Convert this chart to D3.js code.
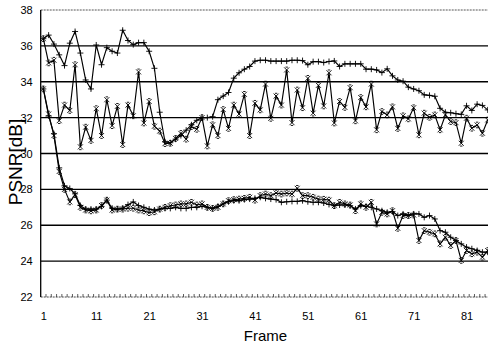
<!DOCTYPE html>
<html>
<head>
<meta charset="utf-8">
<script src="https://cdn.jsdelivr.net/npm/d3@7"></script>
<style>
  body { margin: 0; background: #fff; }
  text { font-family: "Liberation Sans Narrow", "Liberation Sans", Arial, sans-serif; }
</style>
</head>
<body>
<svg id="chart" width="488" height="347"></svg>
<script>
var frames = d3.range(1, 86);
var xTicks = [1, 11, 21, 31, 41, 51, 61, 71, 81];
var yTicks = [22, 24, 26, 28, 30, 32, 34, 36, 38];

// upper pair
var seriesA = [36.4, 36.6, 36.1, 35.5, 34.9, 36.15, 36.8, 35.6, 34.1, 33.6,
  36.05, 34.95, 35.9, 35.7, 35.6, 36.87, 36.3, 36.07, 36.18, 36.18,
  35.7, 34.75, 32.3, 30.65, 30.6, 30.8, 31.0, 31.3, 31.6, 31.85,
  32.0, 32.0, 32.05, 33.0, 33.2, 33.4, 34.2, 34.5, 34.7, 34.85,
  35.15, 35.2, 35.2, 35.15, 35.15, 35.15, 35.15, 35.2, 35.2, 35.18,
  34.95, 35.12, 35.12, 35.07, 35.13, 35.16, 34.85, 35.0, 35.0, 35.0,
  35.0, 34.7, 34.7, 34.66, 34.51, 34.72, 34.33, 34.1, 34.03, 33.7,
  33.6, 33.5, 33.27, 33.24, 33.19, 32.52, 32.3, 32.27, 32.22, 32.18,
  32.66, 32.4, 32.75, 32.68, 32.43];
var seriesB = [36.4, 35.05, 35.2, 31.83, 32.7, 32.4, 34.95, 30.37, 31.47, 30.73,
  32.5, 31.0, 33.0, 31.55, 32.63, 30.5, 32.7, 32.1, 34.55, 31.7,
  32.9, 31.52, 31.25, 30.55, 30.57, 30.84, 31.12, 30.8, 31.5, 31.35,
  32.0, 30.42, 31.6, 31.0, 32.45, 31.4, 32.7, 32.2, 33.3, 31.0,
  32.8, 32.43, 33.87, 31.96, 33.2, 32.7, 34.66, 31.72, 33.54, 32.55,
  34.19, 32.25, 33.8, 32.65, 34.5, 31.7, 32.9, 32.57, 33.67, 31.82,
  33.12, 32.6, 33.87, 31.32, 32.34, 32.15, 32.6, 31.4, 32.1, 31.93,
  32.55, 31.04, 32.25, 32.02, 32.15, 31.32, 32.15, 31.78, 31.72, 30.57,
  31.97, 31.41, 31.59, 31.13, 31.87];
// lower pair
var seriesC = [33.6, 32.1, 31.1, 29.2, 28.2, 28.05, 27.75, 27.1, 26.9, 26.9,
  26.9, 27.05, 27.4, 26.95, 26.9, 26.95, 27.15, 27.3, 27.1, 27.0,
  26.9, 26.85, 26.9, 26.94, 26.94, 27.0, 26.94, 26.94, 27.0, 27.0,
  27.06, 27.0, 26.94, 27.06, 27.19, 27.31, 27.37, 27.37, 27.43, 27.46,
  27.5, 27.56, 27.5, 27.46, 27.43, 27.28, 27.31, 27.33, 27.33, 27.37,
  27.31, 27.28, 27.28, 27.24, 27.16, 27.09, 27.13, 27.13, 27.09, 26.91,
  27.09, 27.06, 27.0, 26.91, 26.81, 26.72, 26.76, 26.54, 26.63, 26.57,
  26.63, 26.63, 26.44, 26.54, 26.35, 25.7, 25.61, 25.33, 25.15, 24.96,
  24.78, 24.69, 24.59, 24.5, 24.5];
var seriesD = [33.6, 32.2, 31.0, 29.0, 28.0, 27.3, 27.7, 27.0, 26.85, 26.8,
  26.85, 27.1, 27.4, 26.85, 26.9, 26.9, 26.95, 26.95, 26.85, 26.8,
  26.7, 26.75, 26.9, 27.0, 27.09, 27.13, 27.19, 27.19, 27.28, 27.13,
  27.19, 27.0, 26.94, 27.0, 27.19, 27.37, 27.43, 27.46, 27.5, 27.56,
  27.4, 27.65, 27.74, 27.65, 27.8, 27.74, 27.8, 27.74, 28.06, 27.65,
  27.65, 27.56, 27.46, 27.45, 27.4, 27.09, 27.28, 27.19, 27.13, 26.81,
  27.19, 27.0, 27.28, 26.07, 26.72, 26.63, 26.81, 25.83, 26.54, 26.54,
  26.57, 25.15, 25.7, 25.61, 25.52, 24.96, 25.33, 24.87, 25.15, 24.04,
  24.59, 24.41, 24.5, 24.22, 24.59];

var svg = d3.select("#chart"),
  margin = { top: 10, left: 40.7, bottom: 50 },
  step = 5.29,
  height = +svg.attr("height") - margin.top - margin.bottom;

var x = d3.scaleLinear().domain([0.5, frames.length + 0.5]).range([0, frames.length * step]),
  y = d3.scaleLinear().domain([22, 38]).range([height, 0]);
var width = x.range()[1];

var g = svg.append("g")
  .attr("transform", "translate(" + margin.left + "," + margin.top + ")");

// grid
g.selectAll(".grid")
  .data(yTicks.filter(function (d) { return d > 22 && d < 38; }))
  .enter().append("line")
  .attr("x1", 0).attr("x2", width)
  .attr("y1", function (d) { return y(d); })
  .attr("y2", function (d) { return y(d); })
  .attr("stroke", "#000").attr("stroke-width", 1.3);

g.append("line")
  .attr("x1", 0).attr("x2", width)
  .attr("y1", y(38)).attr("y2", y(38))
  .attr("stroke", "#555").attr("stroke-width", 1).attr("stroke-dasharray", "2,1");

g.append("line")
  .attr("x1", 0).attr("x2", width)
  .attr("y1", y(22)).attr("y2", y(22))
  .attr("stroke", "#444").attr("stroke-width", 1).attr("stroke-dasharray", "2,1");

// category ticks along the bottom
g.selectAll(".ctick")
  .data(frames)
  .enter().append("line")
  .attr("x1", function (d) { return x(d + 0.5); })
  .attr("x2", function (d) { return x(d + 0.5); })
  .attr("y1", y(22)).attr("y2", y(22) - 3)
  .attr("stroke", "#333").attr("stroke-width", 0.8);

// axes
var yAxis = g.append("g")
  .call(d3.axisLeft(y).tickValues(yTicks).tickSize(0).tickPadding(8));
yAxis.select(".domain").remove();
yAxis.selectAll("text").style("font-size", "11px").attr("fill", "#000");

var xAxis = g.append("g")
  .attr("transform", "translate(0," + height + ")")
  .call(d3.axisBottom(x).tickValues(xTicks).tickSize(0).tickPadding(15));
xAxis.select(".domain").remove();
xAxis.selectAll("text").style("font-size", "11px").attr("fill", "#000");

g.append("line")
  .attr("x1", 0).attr("x2", 0)
  .attr("y1", 0).attr("y2", height)
  .attr("stroke", "#000").attr("stroke-width", 1.3);

// series
var line = d3.line()
  .x(function (d, i) { return x(frames[i]); })
  .y(function (d) { return y(d); });

var plus = "M-3,0H3M0,-3V3",
  cross = "M-2.5,-2.5L2.5,2.5M2.5,-2.5L-2.5,2.5M-1.2,-2.8H1.2M-1.2,2.8H1.2";

[[seriesA, plus], [seriesB, cross], [seriesC, plus], [seriesD, cross]].forEach(function (s) {
  g.append("path")
    .datum(s[0])
    .attr("fill", "none")
    .attr("stroke", "#000")
    .attr("stroke-width", 1.15)
    .attr("d", line);

  g.append("g").selectAll("path")
    .data(s[0])
    .enter().append("path")
    .attr("transform", function (d, i) { return "translate(" + x(frames[i]) + "," + y(d) + ")"; })
    .attr("d", s[1])
    .attr("fill", "none")
    .attr("stroke", "#000")
    .attr("stroke-width", 0.9);
});

// axis titles
svg.append("text")
  .attr("x", margin.left + x(43))
  .attr("y", 341)
  .attr("text-anchor", "middle")
  .style("font-family", "'Liberation Sans', Arial, sans-serif")
  .style("font-size", "15px")
  .text("Frame");

svg.append("text")
  .attr("transform", "translate(22,162) rotate(-90)")
  .attr("text-anchor", "middle")
  .style("font-family", "'Liberation Sans', Arial, sans-serif")
  .style("font-size", "19px")
  .text("PSNR[dB]");
</script>
</body>
</html>
